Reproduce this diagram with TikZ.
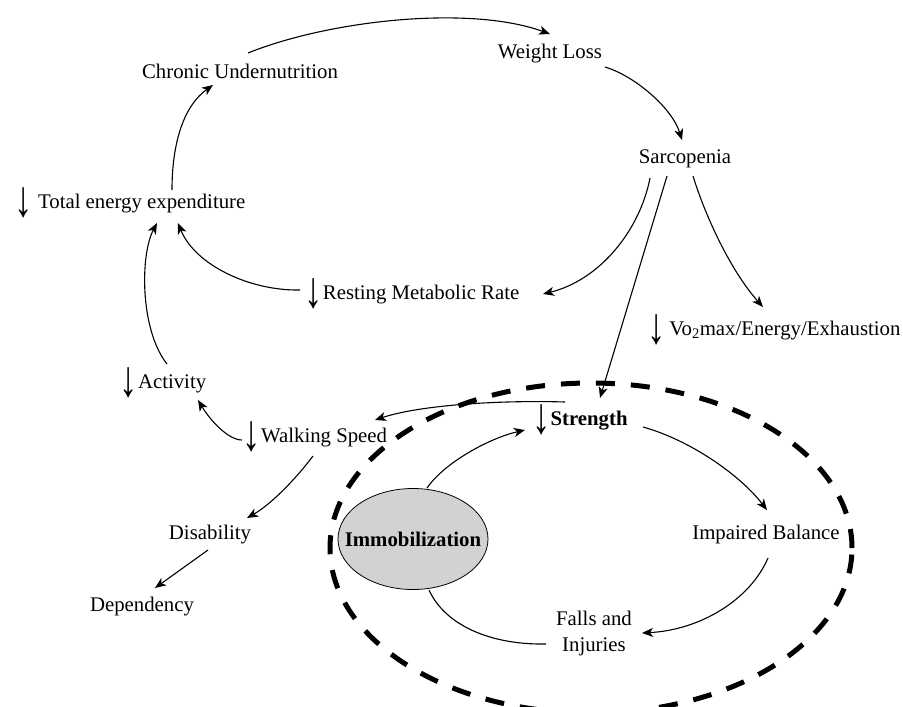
\documentclass[tikz,border=0pt]{standalone}
\usepackage{fontspec}
\usepackage{graphicx}
\setmainfont{Liberation Serif}
\usetikzlibrary{arrows.meta,shapes.geometric}
\definecolor{immfill}{RGB}{210,210,210}
\newcommand\dnarr{\smash{\raisebox{-8.5pt}{\scalebox{1.35}[1.9]{\fontsize{27}{27}\selectfont ↓}}}}
\begin{document}
\begin{tikzpicture}[x=1pt,y=-1pt,
  lbl/.style={inner sep=0pt, text height=15pt, text depth=5pt, font=\fontsize{20.8}{24}\selectfont},
  conn/.style={line width=1.1pt, -{Stealth[length=11pt,width=9pt,inset=3pt]}},
  plain/.style={line width=1.1pt},
  cycle/.style={line width=5pt, dash pattern=on 19pt off 16pt}]
\useasboundingbox (0,0) rectangle (903,707);
\draw[cycle] (591,548) ellipse [x radius=261pt, y radius=165pt];
\node[lbl] (cu) at (240,73) {Chronic Undernutrition};
\node[lbl] (wl) at (550,53) {Weight Loss};
\node[lbl] (sar) at (685,158) {Sarcopenia};
\node[lbl] (tee) at (130,203) {\dnarr\ Total energy expenditure};
\node[lbl] (rmr) at (412,294) {\dnarr Resting Metabolic Rate};
\node[lbl] (vo2) at (774,330) {\dnarr\,Vo\textsubscript{2}max/Energy/Exhaustion};
\node[lbl] (act) at (163,383) {\dnarr Activity};
\node[lbl] (ws) at (315,437) {\dnarr Walking Speed};
\node[lbl] (str) at (580,420) {\dnarr\textbf{Strength}};
\node[lbl] (dis) at (210,534) {Disability};
\node[lbl] (dep) at (142,606) {Dependency};
\node[lbl] (ib) at (766,534) {Impaired Balance};
\node[inner sep=0pt, align=center, font=\fontsize{20.8}{26}\selectfont] (fi) at (594,633) {Falls and\\Injuries};
\node[ellipse, draw, line width=0.8pt, fill=immfill, minimum width=150pt, minimum height=101pt, inner sep=0pt] (imm) at (413,539) {};
\node[inner sep=0pt, font=\bfseries\fontsize{20.8}{24}\selectfont] (immt) at (imm.center) {Immobilization};
\draw[conn] ([shift={(8,-20)}]cu.center) .. controls (330,20) and (470,5) .. ([shift={(0,-19)}]wl.center);
\draw[conn] ([shift={(55,14)}]wl.center) .. controls (635,76) and (672,108) .. ([shift={(-3,-18)}]sar.center);
\draw[conn] ([shift={(42,-13)}]tee.center) .. controls (172,140) and (185,105) .. ([shift={(-27,12)}]cu.center);
\draw[conn] ([shift={(4,-19)}]act.center) .. controls (140,330) and (140,255) .. ([shift={(27,20)}]tee.center);
\draw[conn] ([shift={(-112,-4)}]rmr.center) .. controls (250,291) and (195,265) .. ([shift={(48,20)}]tee.center);
\draw[conn] ([shift={(-35,20)}]sar.center) .. controls (640,230) and (600,280) .. ([shift={(131,0)}]rmr.center);
\draw[conn] ([shift={(-18,18)}]sar.center) -- ([shift={(20,-22)}]str.center);
\draw[conn] ([shift={(8,18)}]sar.center) .. controls (705,215) and (730,270) .. ([shift={(-11,-23)}]vo2.center);
\draw[conn] ([shift={(-15,-18)}]str.center) .. controls (500,400) and (420,405) .. ([shift={(60,-17)}]ws.center);
\draw[conn] ([shift={(-73,3)}]ws.center) .. controls (228,440) and (210,420) .. ([shift={(35,17)}]act.center);
\draw[conn] ([shift={(-2,19)}]ws.center) .. controls (295,480) and (270,505) .. ([shift={(37,-16)}]dis.center);
\draw[conn] ([shift={(-2,16)}]dis.center) -- ([shift={(13,-18)}]dep.center);
\draw[conn] ([shift={(14,-51)}]imm.center) .. controls (445,462) and (490,438) .. ([shift={(-55,10)}]str.center);
\draw[conn] ([shift={(63,7)}]str.center) .. controls (690,440) and (740,475) .. ([shift={(1,-24)}]ib.center);
\draw[conn] ([shift={(2,24)}]ib.center) .. controls (750,600) and (700,630) .. ([shift={(48,0)}]fi.center);
\draw[plain] ([shift={(-48,11)}]fi.center) .. controls (490,645) and (445,625) .. ([shift={(16,51)}]imm.center);
\end{tikzpicture}
\end{document}
